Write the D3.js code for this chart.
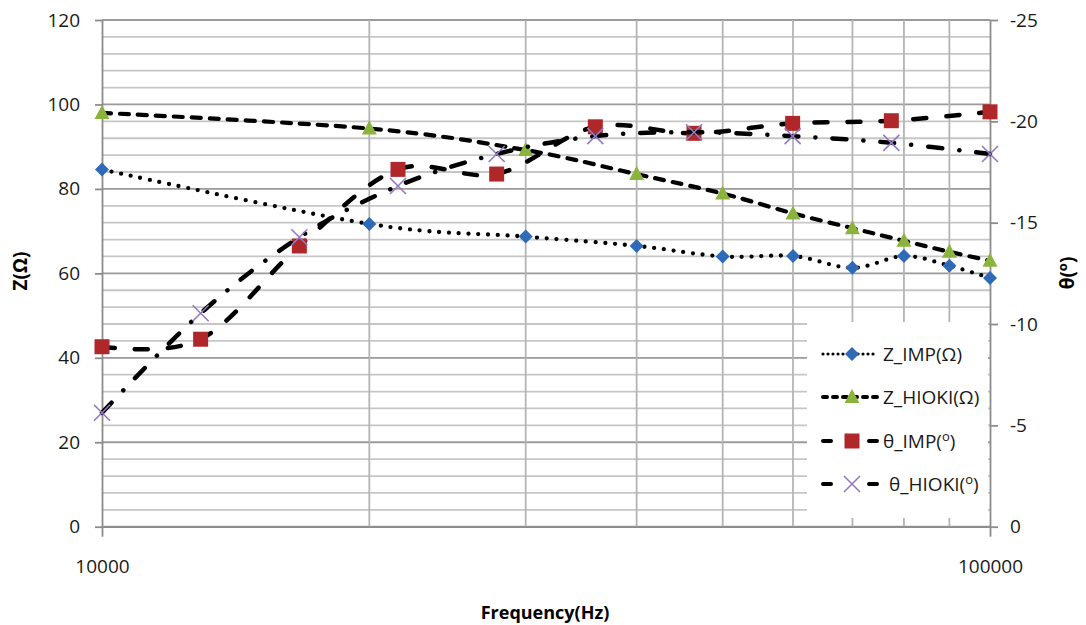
<!DOCTYPE html>
<html>
<head>
<meta charset="utf-8">
<script src="https://cdn.jsdelivr.net/npm/d3@7/dist/d3.min.js"></script>
<style>
  html, body { margin: 0; padding: 0; background: #fff; }
  svg { display: block; font-family: "Open Sans", "Liberation Sans", sans-serif; }
  .tick text { fill: #1a1a1a; }
</style>
</head>
<body>
<svg id="chart" width="1086" height="625"></svg>
<script>
// Frequencies (Hz) at which the impedance magnitude was measured
const freqZ = [10000, 20000, 30000, 40000, 50000, 60000, 70000, 80000, 90000, 100000];
// Impedance magnitude (ohm): own instrument vs HIOKI meter
const zImp   = [84.6, 71.7, 68.7, 66.5, 64.0, 64.1, 61.3, 64.1, 61.8, 58.9];
const zHioki = [98.0, 94.3, 89.2, 83.5, 78.9, 74.2, 70.7, 67.7, 65.1, 63.0];
// Frequencies (Hz) of the phase sweep (log spaced)
const freqTheta = [10000, 12915, 16681, 21544, 27826, 35938, 46416, 59948, 77426, 100000];
// Phase angle (degrees)
const thetaImp   = [-8.88, -9.25, -13.85, -17.63, -17.40, -19.73, -19.41, -19.90, -20.03, -20.47];
const thetaHioki = [-5.62, -10.53, -14.28, -16.81, -18.39, -19.27, -19.46, -19.27, -18.94, -18.39];
// Axis ticks
const zTicks = [0, 20, 40, 60, 80, 100, 120];
const thetaTicks = [0, -5, -10, -15, -20, -25];
const freqTicks = [10000, 100000];
const legendNames = ["Z_IMP(Ω)", "Z_HIOKI(Ω)", "θ_IMP(", "θ_HIOKI("];

const svg = d3.select("#chart");
const L = 102, R = 990, T = 20, B = 526.7;

const x = d3.scaleLog().domain([10000, 100000]).range([L, R]);
const yL = d3.scaleLinear().domain([0, 120]).range([B, T]);
const yR = d3.scaleLinear().domain([0, -25]).range([B, T]);

// ---- gridlines ----
const grid = svg.append("g");
const minorY = d3.range(0, 121, 4);
grid.selectAll("line.hy").data(minorY).join("line")
  .attr("x1", L).attr("x2", R)
  .attr("y1", d => yL(d)).attr("y2", d => yL(d))
  .attr("stroke", d => d % 20 === 0 ? "#9a9a9a" : "#c6c6c6")
  .attr("stroke-width", 1.8);
const minorX = [20000, 30000, 40000, 50000, 60000, 70000, 80000, 90000];
grid.selectAll("line.vx").data(minorX).join("line")
  .attr("x1", d => x(d)).attr("x2", d => x(d))
  .attr("y1", T).attr("y2", B)
  .attr("stroke", "#b4b4b4").attr("stroke-width", 1.8);

// ---- axes ----
const axisStyle = g => {
  g.selectAll(".domain").attr("stroke", "#8c8c8c").attr("stroke-width", 1.8);
  g.selectAll(".tick line").attr("stroke", "#8c8c8c").attr("stroke-width", 1.8);
  g.selectAll(".tick text").attr("font-size", 19).attr("font-family", "Open Sans");
};
svg.append("g").attr("transform", `translate(${L},0)`)
  .call(d3.axisLeft(yL).tickValues(zTicks).tickSize(7).tickPadding(15).tickSizeOuter(0))
  .call(axisStyle);
svg.append("g").attr("transform", `translate(${R},0)`)
  .call(d3.axisRight(yR).tickValues(thetaTicks).tickSize(8).tickPadding(12).tickSizeOuter(0)
    .tickFormat(d => d === 0 ? "0" : String(d)))
  .call(axisStyle);
svg.append("g").attr("transform", `translate(0,${B})`)
  .call(d3.axisBottom(x).tickValues(freqTicks).tickSize(10).tickPadding(23).tickSizeOuter(0)
    .tickFormat(d3.format("d")))
  .call(axisStyle);

// ---- axis titles ----
svg.append("text").attr("transform", "translate(27,271) rotate(-90)")
  .attr("text-anchor", "middle").attr("font-weight", "bold").attr("font-size", 19)
  .text("Z(Ω)");
const tt = svg.append("text").attr("transform", "translate(1074,273) rotate(-90)")
  .attr("text-anchor", "middle").attr("font-weight", "bold").attr("font-size", 19);
tt.append("tspan").text("θ(");
tt.append("tspan").attr("dy", -7).attr("font-size", 13).text("o");
tt.append("tspan").attr("dy", 7).text(")");
svg.append("text").attr("x", 545).attr("y", 619)
  .attr("text-anchor", "middle").attr("font-weight", "bold").attr("font-size", 18)
  .text("Frequency(Hz)");

// ---- series ----
const curve = d3.curveCardinal.tension(0);
const series = [
  { xs: freqZ, ys: zImp, y: yL, dash: "0 9.8", width: 4.3, marker: "diamond", color: "#2e6ab8" },
  { xs: freqZ, ys: zHioki, y: yL, dash: "9 9", width: 4.2, marker: "triangle", color: "#8bb43c" },
  { xs: freqTheta, ys: thetaImp, y: yR, dash: "13 20", width: 4.5, marker: "square", color: "#b0272a" },
  { xs: freqTheta, ys: thetaHioki, y: yR, dash: "14 17 0.1 17", width: 4.5, marker: "cross", color: "#9479c0" }
];

function drawMarker(g, kind, cx, cy, color) {
  if (kind === "diamond") {
    g.append("path").attr("d", `M${cx},${cy - 7}L${cx + 7},${cy}L${cx},${cy + 7}L${cx - 7},${cy}Z`).attr("fill", color);
  } else if (kind === "triangle") {
    g.append("path").attr("d", `M${cx},${cy - 8}L${cx + 7.5},${cy + 6}L${cx - 7.5},${cy + 6}Z`).attr("fill", color);
  } else if (kind === "square") {
    g.append("rect").attr("x", cx - 7.5).attr("y", cy - 7.5).attr("width", 15).attr("height", 15).attr("fill", color);
  } else {
    g.append("path").attr("d", `M${cx - 8},${cy - 8}L${cx + 8},${cy + 8}M${cx + 8},${cy - 8}L${cx - 8},${cy + 8}`)
      .attr("stroke", color).attr("stroke-width", 1.6).attr("fill", "none");
  }
}

series.forEach(s => {
  const pts = s.xs.map((f, i) => [x(f), s.y(s.ys[i])]);
  const g = svg.append("g");
  g.append("path").attr("d", d3.line().curve(curve)(pts))
    .attr("fill", "none").attr("stroke", "#000").attr("stroke-width", s.width)
    .attr("stroke-dasharray", s.dash).attr("stroke-linecap", "round");
  pts.forEach(p => drawMarker(g, s.marker, p[0], p[1], s.color));
});

// ---- legend ----
const lg = svg.append("g");
lg.append("rect").attr("x", 807).attr("y", 322).attr("width", 181).attr("height", 196).attr("fill", "#fff");
const legendDash = ["0 5", "4 6", "8 38 8", "8 38 8"];
const legendY = [354, 397, 441, 484];
series.forEach((s, i) => {
  const ly = legendY[i];
  lg.append("line").attr("x1", 823).attr("x2", 877).attr("y1", ly).attr("y2", ly)
    .attr("stroke", "#000").attr("stroke-width", i === 0 ? 3.2 : 4)
    .attr("stroke-dasharray", legendDash[i]).attr("stroke-linecap", "round");
  drawMarker(lg, s.marker, 852, ly, s.color);
  const t = lg.append("text").attr("x", i === 3 ? 889 : 883).attr("y", ly + 7).attr("font-size", 19).attr("fill", "#1a1a1a");
  t.append("tspan").text(legendNames[i]);
  if (i >= 2) {
    t.append("tspan").attr("dy", -7).attr("font-size", 13).text("o");
    t.append("tspan").attr("dy", 7).text(")");
  }
});
</script>
</body>
</html>
